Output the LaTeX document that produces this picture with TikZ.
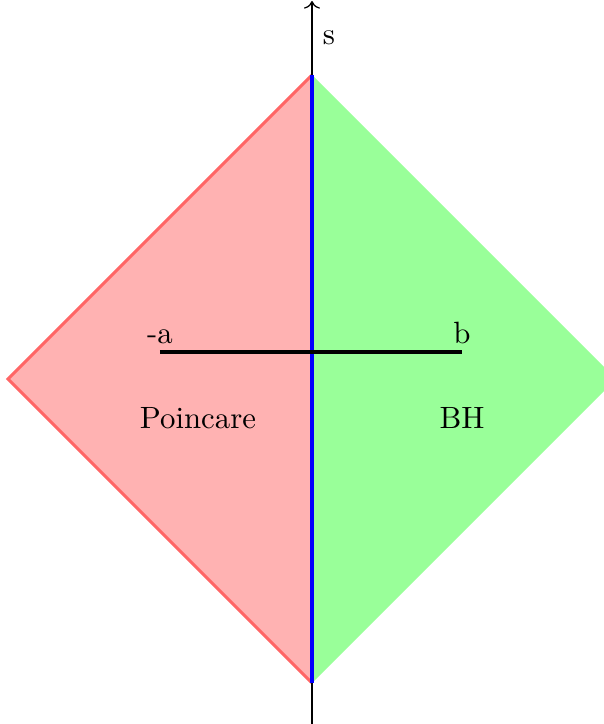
\documentclass[tikz,border=0pt]{standalone}
\usetikzlibrary{arrows.meta}

\begin{document}
\begin{tikzpicture}[>=To, x=0.3247pt, y=0.3247pt]
  \useasboundingbox (-312,-345) rectangle (292,379);
  \begin{scope}
    \clip (-312,-345) rectangle (292,379);
    % patches of the diagram
    \fill[green!40] (0,304) -- (304,0) -- (0,-304) -- cycle;
    \fill[red!30] (0,304) -- (-304,0) -- (0,-304) -- cycle;
    \draw[red!60, line width=1pt] (0,304) -- (-304,0) -- (0,-304);
  \end{scope}
  % axis
  \coordinate (bot) at (0,-345);
  \coordinate (top) at (0,378);
  \draw[->] (bot) -- (top) node[below right, yshift=-6pt] (s) {s};
  % horizon
  \coordinate (hn) at (0,304);
  \coordinate (hs) at (0,-304);
  \draw[blue, line width=1.6pt] (hn) -- (hs);
  % interval
  \coordinate (ma) at (-152,27);
  \coordinate (mb) at (150,27);
  \draw[line width=1.3pt] (ma) -- (mb);
  \node[above, yshift=-1pt] (la) at (ma) {-a};
  \node[above, yshift=-1pt] (lb) at (mb) {b};
  \node (poin) at (-114,-39) {Poincare};
  \node (bh) at (150,-39) {BH};
\end{tikzpicture}
\end{document}
